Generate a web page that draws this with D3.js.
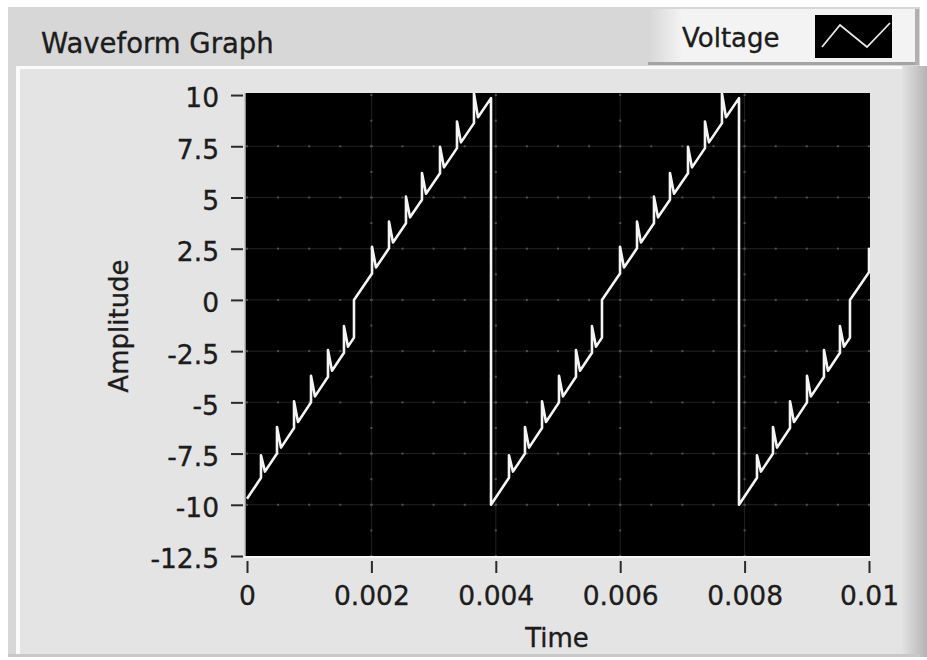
<!DOCTYPE html>
<html>
<head>
<meta charset="utf-8">
<script src="https://cdn.jsdelivr.net/npm/d3@7.9.0/dist/d3.min.js"></script>
<style>
  body { margin: 0; background: #fff; }
  svg { display: block; font-family: "DejaVu Sans", sans-serif; }
  svg text { stroke: #1c1c1c; stroke-width: 0.35px; }
</style>
</head>
<body>
<div id="chart"></div>
<script>
// axis ticks
const xTicks = [0, 0.002, 0.004, 0.006, 0.008, 0.01];
const xTickLabels = ['0', '0.002', '0.004', '0.006', '0.008', '0.01'];
const yTicks = [10, 7.5, 5, 2.5, 0, -2.5, -5, -7.5, -10, -12.5];
const yTickLabels = ['10', '7.5', '5', '2.5', '0', '-2.5', '-5', '-7.5', '-10', '-12.5'];

// waveform vertices [time, amplitude], one array per sawtooth cycle
const cycle1 = [
  [0, -9.71],
  [0.000225, -8.68], [0.000225, -7.58], [0.000289, -8.38],
  [0.000482, -7.50], [0.000482, -6.20], [0.000547, -7.21],
  [0.000756, -6.25], [0.000756, -4.95], [0.000820, -5.96],
  [0.001029, -5.00], [0.001029, -3.70], [0.001093, -4.71],
  [0.001302, -3.75], [0.001302, -2.45], [0.001367, -3.46],
  [0.001559, -2.58], [0.001559, -1.28], [0.001624, -2.28],
  [0.001720, -1.84], [0.001720, 0],
  [0.002010, 1.29], [0.002010, 2.59], [0.002074, 1.58],
  [0.002283, 2.52], [0.002283, 3.82], [0.002347, 2.80],
  [0.002556, 3.74], [0.002556, 5.04], [0.002621, 4.03],
  [0.002813, 4.89], [0.002813, 6.19], [0.002878, 5.18],
  [0.003103, 6.18], [0.003103, 7.48], [0.003167, 6.47],
  [0.003376, 7.41], [0.003376, 8.71], [0.003440, 7.69],
  [0.003649, 8.63], [0.003649, 10.08], [0.003714, 8.92],
  [0.003923, 9.85]
];
const cycle2 = [
  [0.003923, -10],
  [0.004212, -8.68], [0.004212, -7.58], [0.004276, -8.38],
  [0.004469, -7.50], [0.004469, -6.20], [0.004534, -7.21],
  [0.004743, -6.25], [0.004743, -4.95], [0.004807, -5.96],
  [0.005016, -5.00], [0.005016, -3.70], [0.005080, -4.71],
  [0.005289, -3.75], [0.005289, -2.45], [0.005354, -3.46],
  [0.005546, -2.58], [0.005546, -1.28], [0.005611, -2.28],
  [0.005707, -1.84], [0.005707, 0],
  [0.005997, 1.29], [0.005997, 2.59], [0.006061, 1.58],
  [0.006270, 2.52], [0.006270, 3.82], [0.006334, 2.80],
  [0.006543, 3.74], [0.006543, 5.04], [0.006608, 4.03],
  [0.006800, 4.89], [0.006800, 6.19], [0.006865, 5.18],
  [0.007090, 6.18], [0.007090, 7.48], [0.007154, 6.47],
  [0.007363, 7.41], [0.007363, 8.71], [0.007427, 7.69],
  [0.007636, 8.63], [0.007636, 10.08], [0.007701, 8.92],
  [0.007910, 9.85]
];
const cycle3 = [
  [0.007910, -10],
  [0.008199, -8.68], [0.008199, -7.58], [0.008263, -8.38],
  [0.008456, -7.50], [0.008456, -6.20], [0.008521, -7.21],
  [0.008730, -6.25], [0.008730, -4.95], [0.008794, -5.96],
  [0.009003, -5.00], [0.009003, -3.70], [0.009067, -4.71],
  [0.009276, -3.75], [0.009276, -2.45], [0.009341, -3.46],
  [0.009533, -2.58], [0.009533, -1.28], [0.009598, -2.28],
  [0.009694, -1.84], [0.009694, 0],
  [0.01, 1.35], [0.01, 2.55]
];

const width = 927;
const height = 660;

const xScale = d3.scaleLinear().domain([0, 0.01]).range([247, 869]);
const yScale = d3.scaleLinear().domain([-12.5, 10.1]).range([556, 93]);

const svg = d3.select('#chart')
  .append('svg')
  .attr('width', width)
  .attr('height', height);

const defs = svg.append('defs');

const shade = defs.append('linearGradient').attr('id', 'rightShade');
shade.append('stop').attr('offset', '0%').attr('stop-color', '#e2e2e2');
shade.append('stop').attr('offset', '100%').attr('stop-color', '#b4b4b4');

const plate = defs.append('linearGradient').attr('id', 'plate');
plate.append('stop').attr('offset', '0%').attr('stop-color', '#d8d8d8');
plate.append('stop').attr('offset', '12%').attr('stop-color', '#f3f3f3');
plate.append('stop').attr('offset', '100%').attr('stop-color', '#f3f3f3');

defs.append('clipPath').attr('id', 'plotClip')
  .append('rect')
  .attr('x', xScale(0) - 2)
  .attr('y', yScale(10.1))
  .attr('width', xScale(0.01) - xScale(0) + 3)
  .attr('height', yScale(-12.5) - yScale(10.1));

// panel frame
svg.append('rect').attr('x', 8).attr('y', 7).attr('width', 912).attr('height', 650).attr('fill', '#d7d7d7');
svg.append('rect').attr('x', 16).attr('y', 66).attr('width', 888).attr('height', 588).attr('fill', '#e4e4e4');
svg.append('rect').attr('x', 16).attr('y', 66).attr('width', 888).attr('height', 3).attr('fill', '#fbfbfb');
svg.append('rect').attr('x', 16).attr('y', 66).attr('width', 4).attr('height', 588).attr('fill', '#fbfbfb');
svg.append('rect').attr('x', 902).attr('y', 66).attr('width', 25).attr('height', 591).attr('fill', 'url(#rightShade)');
svg.append('rect').attr('x', 8).attr('y', 654).attr('width', 912).attr('height', 3).attr('fill', '#c8c8c8');

// title
svg.append('text')
  .attr('x', 41).attr('y', 53)
  .attr('font-size', 27.5)
  .attr('fill', '#1c1c1c')
  .text('Waveform Graph');

// legend plate
svg.append('rect').attr('x', 650).attr('y', 9).attr('width', 267).attr('height', 54).attr('fill', 'url(#plate)');
svg.append('rect').attr('x', 648).attr('y', 62).attr('width', 271).attr('height', 3).attr('fill', '#a4a4a4');
svg.append('rect').attr('x', 915).attr('y', 9).attr('width', 4).attr('height', 56).attr('fill', '#b0b0b0');
svg.append('text')
  .attr('x', 682).attr('y', 47)
  .attr('font-size', 26)
  .attr('fill', '#1c1c1c')
  .text('Voltage');
svg.append('rect').attr('x', 815).attr('y', 15).attr('width', 77).attr('height', 43).attr('fill', '#000');
svg.append('polyline')
  .attr('points', '822,47 840,25 867,47 890,23')
  .attr('fill', 'none')
  .attr('stroke', '#e8e8e8')
  .attr('stroke-width', 1.8);

// plot background
svg.append('rect')
  .attr('x', xScale(0) - 2)
  .attr('y', yScale(10.1))
  .attr('width', xScale(0.01) - xScale(0) + 3)
  .attr('height', yScale(-12.5) - yScale(10.1))
  .attr('fill', '#000');

// grid: dim lines at major ticks with brighter dots at minor steps
const grid = svg.append('g').attr('class', 'gridlines');
const xMinor = xScale.ticks(20);
const yMinor = d3.range(-12.5, 10.01, 1.25);

grid.selectAll('line.h')
  .data(yTicks.filter(d => d > -12.5 && d < 10))
  .join('line')
  .attr('class', 'h')
  .attr('x1', xScale(0)).attr('x2', xScale(0.01))
  .attr('y1', d => yScale(d)).attr('y2', d => yScale(d))
  .attr('stroke', '#222');

grid.selectAll('line.v')
  .data(xTicks.filter(d => d > 0 && d < 0.01))
  .join('line')
  .attr('class', 'v')
  .attr('x1', d => xScale(d)).attr('x2', d => xScale(d))
  .attr('y1', yScale(10.1)).attr('y2', yScale(-12.5))
  .attr('stroke', '#222');

const dots = [];
yTicks.filter(d => d > -12.5 && d < 10).forEach(y => xMinor.forEach(x => dots.push([x, y])));
xTicks.filter(d => d > 0 && d < 0.01).forEach(x => yMinor.forEach(y => dots.push([x, y])));

grid.selectAll('rect.dot')
  .data(dots)
  .join('rect')
  .attr('class', 'dot')
  .attr('x', d => xScale(d[0]) - 1)
  .attr('y', d => yScale(d[1]) - 1)
  .attr('width', 2).attr('height', 2)
  .attr('fill', '#505050');

// trace
const line = d3.line()
  .x(d => xScale(d[0]))
  .y(d => yScale(d[1]));

svg.append('path')
  .datum(cycle1.concat(cycle2, cycle3))
  .attr('clip-path', 'url(#plotClip)')
  .attr('d', line)
  .attr('fill', 'none')
  .attr('stroke', '#f4f4f4')
  .attr('stroke-width', 2.6)
  .attr('stroke-linejoin', 'round');

// plot edges
svg.append('line')
  .attr('x1', xScale(0) - 2).attr('x2', xScale(0) - 2)
  .attr('y1', yScale(10.1)).attr('y2', yScale(-12.5))
  .attr('stroke', '#bdbdbd').attr('stroke-width', 1.5);
svg.append('line')
  .attr('x1', xScale(0) - 3).attr('x2', xScale(0.01) + 1)
  .attr('y1', yScale(-12.5) + 1).attr('y2', yScale(-12.5) + 1)
  .attr('stroke', '#f6f6f6').attr('stroke-width', 2);

// axes
const yAxis = svg.append('g')
  .attr('transform', `translate(${xScale(0) - 4}, 0)`)
  .call(d3.axisLeft(yScale)
    .tickValues(yTicks)
    .tickFormat((d, i) => yTickLabels[i])
    .tickSize(12)
    .tickPadding(12));

const xAxis = svg.append('g')
  .attr('transform', `translate(0, ${yScale(-12.5) + 5})`)
  .call(d3.axisBottom(xScale)
    .tickValues(xTicks)
    .tickFormat((d, i) => xTickLabels[i])
    .tickSize(12)
    .tickPadding(13));

[yAxis, xAxis].forEach(g => {
  g.select('.domain').remove();
  g.selectAll('.tick line').attr('stroke', '#2a2a2a').attr('stroke-width', 2);
  g.selectAll('.tick text')
    .attr('font-family', '"DejaVu Sans", sans-serif')
    .attr('font-size', 26.5)
    .attr('fill', '#1c1c1c');
});
yAxis.selectAll('.tick text').attr('dy', '0.45em');

// axis titles
svg.append('text')
  .attr('x', 557).attr('y', 647)
  .attr('text-anchor', 'middle')
  .attr('font-size', 26)
  .attr('fill', '#1c1c1c')
  .text('Time');

svg.append('text')
  .attr('transform', `translate(128, 326) rotate(-90)`)
  .attr('text-anchor', 'middle')
  .attr('font-size', 26)
  .attr('fill', '#1c1c1c')
  .text('Amplitude');
</script>
</body>
</html>
